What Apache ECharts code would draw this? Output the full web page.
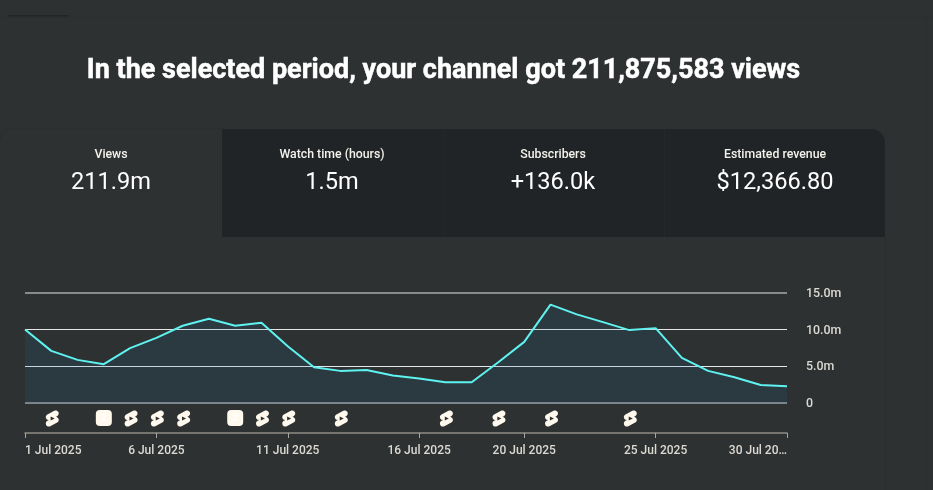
<!DOCTYPE html>
<html>
<head>
<meta charset="utf-8">
<script src="https://cdn.jsdelivr.net/npm/echarts@6/dist/echarts.min.js"></script>
<style>html,body{margin:0;padding:0;background:#2e3132}#c{width:933px;height:490px}</style>
</head>
<body>
<div id="c"></div>
<script>
const titleText = 'In the selected period, your channel got 211,875,583 views';
const tabLabels = ['Views', 'Watch time (hours)', 'Subscribers', 'Estimated revenue'];
const tabValues = ['211.9m', '1.5m', '+136.0k', '$12,366.80'];
const dates = ['1 Jul 2025','2 Jul 2025','3 Jul 2025','4 Jul 2025','5 Jul 2025','6 Jul 2025','7 Jul 2025','8 Jul 2025','9 Jul 2025','10 Jul 2025','11 Jul 2025','12 Jul 2025','13 Jul 2025','14 Jul 2025','15 Jul 2025','16 Jul 2025','17 Jul 2025','18 Jul 2025','19 Jul 2025','20 Jul 2025','21 Jul 2025','22 Jul 2025','23 Jul 2025','24 Jul 2025','25 Jul 2025','26 Jul 2025','27 Jul 2025','28 Jul 2025','29 Jul 2025','30 Jul 2025'];
const views = [10.03,7.11,5.88,5.29,7.48,8.89,10.53,11.49,10.53,10.94,7.75,4.88,4.38,4.51,3.74,3.33,2.83,2.83,5.52,8.34,13.41,12.08,11.03,9.94,10.21,6.16,4.38,3.51,2.46,2.28];
const labelledDates = ['1 Jul 2025','6 Jul 2025','11 Jul 2025','16 Jul 2025','20 Jul 2025','25 Jul 2025','30 Jul 2025'];
const shortsDates = ['2 Jul 2025','5 Jul 2025','6 Jul 2025','7 Jul 2025','10 Jul 2025','11 Jul 2025','13 Jul 2025','17 Jul 2025','19 Jul 2025','21 Jul 2025','24 Jul 2025'];
const bundleDates = ['4 Jul 2025','9 Jul 2025'];
const bundleCount = '2';
const shortsPath = 'path://M17.77 10.32l-1.2-.5L18 9.06c1.84-.96 2.53-3.23 1.56-5.06s-3.24-2.53-5.07-1.56L6 6.94c-1.29.68-2.07 2.04-2 3.49.07 1.42.93 2.67 2.22 3.25.03.01 1.2.5 1.2.5L6 14.93c-1.83.97-2.53 3.24-1.56 5.07.97 1.83 3.24 2.53 5.07 1.56l8.5-4.5c1.29-.68 2.06-2.04 1.99-3.49-.07-1.42-.94-2.68-2.23-3.25zM10 14.65v-5.3L15 12l-5 2.65z';

const font = 'Roboto';
const cream = '#fff8ec';
const tabCenters = [111, 332, 553, 775];
const graphic = [
  {type:'rect', silent:true, shape:{x:8,y:15,width:61,height:1.5}, style:{fill:'#232527'}},
  {type:'rect', silent:true, shape:{x:0,y:17,width:933,height:1}, style:{fill:'#2b2e2f'}},
  {type:'rect', silent:true, shape:{x:885,y:237,width:1,height:253}, style:{fill:'#2b2e2f'}},
  {type:'rect', silent:true, shape:{x:926,y:18,width:1,height:472}, style:{fill:'#2b2e2f'}},
  {type:'rect', silent:true, shape:{x:12,y:128.5,width:210,height:1}, style:{fill:'#2a2d2e'}},
  {type:'arc', silent:true, shape:{cx:12,cy:141,r:12,startAngle:Math.PI,endAngle:Math.PI*1.5,clockwise:true}, style:{fill:'none',stroke:'#2a2d2e',lineWidth:1}},
  {type:'rect', silent:true, shape:{x:222,y:129,width:663,height:108,r:[0,14,0,0]}, style:{fill:'#212426'}},
  {type:'rect', silent:true, shape:{x:443.5,y:129,width:1,height:108}, style:{fill:'#25282a'}},
  {type:'rect', silent:true, shape:{x:664,y:129,width:1,height:108}, style:{fill:'#25282a'}},
  {type:'text', silent:true, x:443.5, y:71, style:{text:titleText, fill:'#ffffff', stroke:'#ffffff', lineWidth:0.5, font:'700 27px '+font, align:'center', verticalAlign:'middle'}}
];
tabLabels.forEach((t,i)=>{
  graphic.push({type:'text', silent:true, x:tabCenters[i], y:155, style:{text:t, fill:'#f4f2ec', font:'500 12.3px '+font, align:'center', verticalAlign:'middle'}});
  graphic.push({type:'text', silent:true, x:tabCenters[i], y:183, style:{text:tabValues[i], fill:'#ffffff', font:'400 23.6px '+font, align:'center', verticalAlign:'middle'}});
});

const chart = echarts.init(document.getElementById('c'), null, {renderer:'canvas'});
chart.setOption({
  backgroundColor:'#2e3132',
  animation:false,
  textStyle:{fontFamily:font},
  graphic:graphic,
  grid:[
    {left:25, width:762, top:293, height:110, containLabel:false},
    {left:25, width:762, top:403, height:30, containLabel:false}
  ],
  xAxis:[
    {type:'category', gridIndex:0, data:dates, boundaryGap:false, show:false},
    {type:'category', gridIndex:1, data:dates, boundaryGap:false, position:'bottom',
      axisLine:{show:true, onZero:false, lineStyle:{color:'#8e8c85', width:1.5}},
      axisTick:{show:true, alignWithLabel:true, length:5, interval:(i,v)=>labelledDates.includes(v), lineStyle:{color:'#a8a69f', width:1}},
      axisLabel:{show:true, interval:(i,v)=>labelledDates.includes(v), color:'#dcdad3', fontFamily:font, fontSize:12, fontWeight:500, margin:12,
        alignMinLabel:'left', alignMaxLabel:'right', showMinLabel:true, showMaxLabel:true,
        formatter:v=> v===dates[dates.length-1] ? v.slice(0,9)+'…' : v}}
  ],
  yAxis:[
    {type:'value', gridIndex:0, position:'right', min:0, max:15, interval:5,
      axisLine:{show:false}, axisTick:{show:false},
      splitLine:{show:true, lineStyle:{color:['transparent','#e2e8ec','#e6e6e4','transparent'], width:1}},
      axisLabel:{color:'#dcdad3', fontFamily:font, fontSize:12.4, fontWeight:500, margin:19, verticalAlign:'top', lineHeight:2,
        formatter:v=> v===0 ? '0' : v.toFixed(1)+'m'}},
    {type:'value', gridIndex:0, position:'right', min:0, max:15, interval:15,
      axisLine:{show:false}, axisTick:{show:false}, axisLabel:{show:false},
      splitLine:{show:true, lineStyle:{color:['#7f878b','#8a8a8a'], width:2}}},
    {type:'value', gridIndex:1, min:0, max:1, show:false}
  ],
  series:[
    {type:'line', name:'Views', xAxisIndex:0, yAxisIndex:0, data:views, showSymbol:false, symbol:'none',
      lineStyle:{color:'#5ef2f0', width:2}, areaStyle:{color:'rgba(30,110,160,0.2)'}},
    {type:'scatter', name:'Shorts', xAxisIndex:1, yAxisIndex:2, symbol:shortsPath, symbolSize:[13,16], symbolOffset:[1,0.5],
      itemStyle:{color:cream, opacity:1}, data:shortsDates.map(d=>[d,0.5])},
    {type:'scatter', name:'Uploads', xAxisIndex:1, yAxisIndex:2, symbol:'roundRect', symbolSize:16,
      itemStyle:{color:cream, opacity:1},
      label:{show:true, position:'inside', formatter:bundleCount, color:'#ffffff', fontFamily:font, fontSize:11, fontWeight:500},
      data:bundleDates.map(d=>[d,0.5])}
  ]
});
</script>
</body>
</html>
